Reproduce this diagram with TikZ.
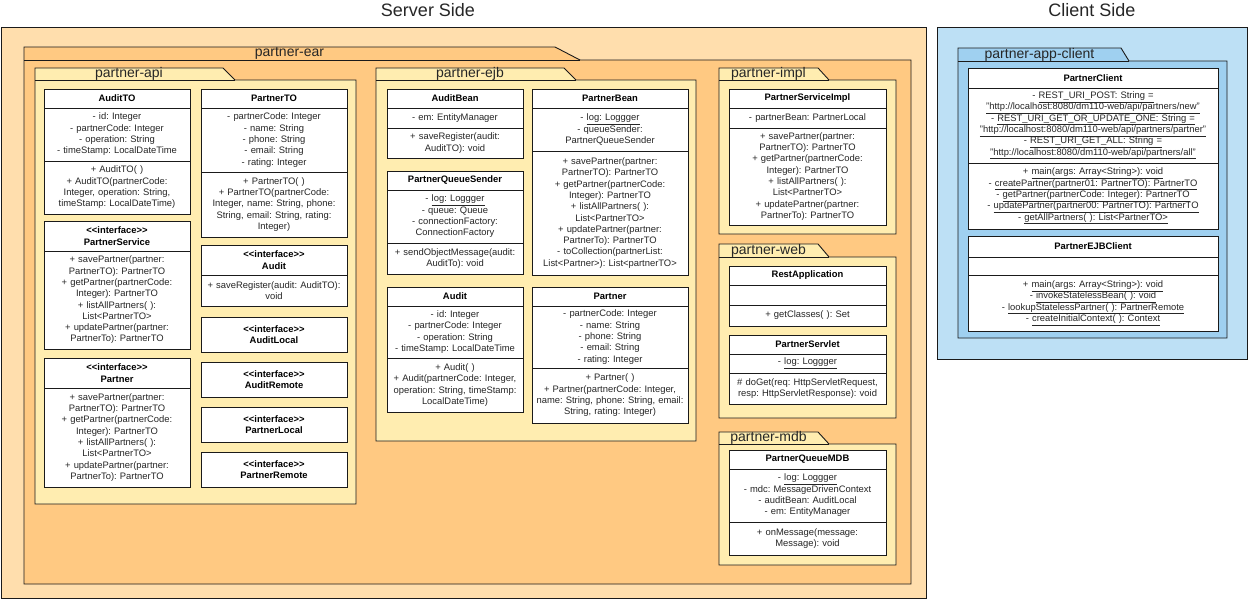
\documentclass[tikz,border=0pt]{standalone}
\usepackage{fontspec}
\setmainfont{Liberation Sans}
\usetikzlibrary{positioning,calc}
\definecolor{inkc}{HTML}{1A1A1A}
\definecolor{txtc}{HTML}{262626}
\definecolor{srvc}{HTML}{FFDEAD}
\definecolor{earc}{HTML}{FFC982}
\definecolor{pkgc}{HTML}{FFEDB0}
\definecolor{clic}{HTML}{BDE0F5}
\definecolor{appc}{HTML}{9FD0F0}
\frenchspacing
\newcommand{\stereo}{<\kern0pt<interface>\kern0pt>}
\newcommand{\logat}{- \underline{log: Loggger}}
% fill, x0, tab top, x1, bottom, tab end, slant, body top, label
\newcommand{\umlpkg}[9]{%
  \draw[pkgln,fill=#1] (#2,#3) -- (#6,#3) -- (#6+#7,#8) -- (#4,#8) -- (#4,#5) -- (#2,#5) -- cycle;
  \draw[pkgln] (#2,#8) -- (#6+#7,#8);
  \node[pkgl] (#9) at ($(#2,#3)!.5!(#6,#8)$) {#9};
}
\tikzset{
  pkgln/.style={draw=inkc,line width=.9pt},
  pkgl/.style ={font=\fontsize{14}{16}\selectfont,text=txtc,inner sep=0pt},
  ttl/.style  ={font=\fontsize{18}{20}\selectfont,text=txtc},
  box/.style  ={draw=inkc,line width=.8pt,fill=white,outer sep=0pt,inner xsep=0pt,
                inner ysep=1pt,align=center,text=txtc,font=\fontsize{9.4}{11.3}\selectfont\frenchspacing},
  hd/.style   ={box,anchor=north west,text=black,font=\fontsize{9.4}{11.3}\selectfont\bfseries},
  sec/.style  ={box},
  cw/.style   ={text width=#1},
}
\begin{document}
\begin{tikzpicture}[x=1pt,y=-1pt]
\useasboundingbox (0,0) rectangle (1257,603);

% ---------- server side ----------
\node[ttl] (srv-t) at (428,10) {Server Side};
\draw[pkgln,fill=srvc] (1,27) rectangle (926,598);
\umlpkg{earc}{24}{47}{911}{584}{555}{25}{60}{partner-ear}
\umlpkg{pkgc}{35}{68}{356}{504}{223}{12}{80}{partner-api}
\umlpkg{pkgc}{376}{68}{696}{441}{564}{12}{80}{partner-ejb}
\umlpkg{pkgc}{719}{68}{896}{234}{818}{11}{80}{partner-impl}
\umlpkg{pkgc}{719}{244}{896}{418}{818}{11}{257}{partner-web}
\umlpkg{pkgc}{719}{432}{896}{565}{818}{11}{444}{partner-mdb}

% partner-api
\node[hd,cw=146pt,minimum height=19pt] (auditto) at (44,89) {AuditTO};
\node[sec,cw=146pt,minimum height=53pt,below=0pt of auditto] (auditto-a)
  {- id: Integer\\- partnerCode: Integer\\- operation: String\\- timeStamp: LocalDateTime};
\node[sec,cw=146pt,minimum height=53pt,below=0pt of auditto-a] (auditto-m)
  {+ AuditTO( )\\+ AuditTO(partnerCode:\\Integer, operation: String,\\timeStamp: LocalDateTime)};

\node[hd,cw=146pt,minimum height=19pt] (partnerto) at (201,89) {PartnerTO};
\node[sec,cw=146pt,minimum height=64pt,below=0pt of partnerto] (partnerto-a)
  {- partnerCode: Integer\\- name: String\\- phone: String\\- email: String\\- rating: Integer};
\node[sec,cw=146pt,minimum height=65pt,below=0pt of partnerto-a] (partnerto-m)
  {+ PartnerTO( )\\+ PartnerTO(partnerCode:\\Integer, name: String, phone:\\String, email: String, rating:\\Integer)};

\node[hd,cw=146pt,minimum height=30pt] (psvc) at (44,221) {\stereo\\PartnerService};
\node[sec,cw=146pt,minimum height=98pt,below=0pt of psvc] (psvc-m)
  {+ savePartner(partner:\\PartnerTO): PartnerTO\\+ getPartner(partnerCode:\\Integer): PartnerTO\\
   + listAllPartners( ):\\List<PartnerTO>\\+ updatePartner(partner:\\PartnerTo): PartnerTO};

\node[hd,cw=146pt,minimum height=30pt] (pif) at (44,358) {\stereo\\Partner};
\node[sec,cw=146pt,minimum height=99pt,below=0pt of pif] (pif-m)
  {+ savePartner(partner:\\PartnerTO): PartnerTO\\+ getPartner(partnerCode:\\Integer): PartnerTO\\
   + listAllPartners( ):\\List<PartnerTO>\\+ updatePartner(partner:\\PartnerTo): PartnerTO};

\node[hd,cw=146pt,minimum height=30pt] (aif) at (201,245) {\stereo\\Audit};
\node[sec,cw=146pt,minimum height=31pt,below=0pt of aif] (aif-m)
  {+ saveRegister(audit: AuditTO):\\void};

\node[hd,cw=146pt,minimum height=35pt] (alocal)  at (201,317) {\stereo\\AuditLocal};
\node[hd,cw=146pt,minimum height=35pt] (aremote) at (201,362) {\stereo\\AuditRemote};
\node[hd,cw=146pt,minimum height=35pt] (plocal)  at (201,407) {\stereo\\PartnerLocal};
\node[hd,cw=146pt,minimum height=35pt] (premote) at (201,452) {\stereo\\PartnerRemote};

% partner-ejb
\node[hd,cw=136pt,minimum height=19pt] (abean) at (387,89) {AuditBean};
\node[sec,cw=136pt,minimum height=20pt,below=0pt of abean] (abean-a) {- em: EntityManager};
\node[sec,cw=136pt,minimum height=30pt,below=0pt of abean-a] (abean-m)
  {+ saveRegister(audit:\\AuditTO): void};

\node[hd,cw=136pt,minimum height=19pt] (pqs) at (387,171) {PartnerQueueSender};
\node[sec,cw=136pt,minimum height=53pt,below=0pt of pqs] (pqs-a)
  {\logat\\- queue: Queue\\- connectionFactory:\\ConnectionFactory};
\node[sec,cw=136pt,minimum height=31pt,below=0pt of pqs-a] (pqs-m)
  {+ sendObjectMessage(audit:\\AuditTo): void};

\node[hd,cw=136pt,minimum height=19pt] (audit) at (387,287) {Audit};
\node[sec,cw=136pt,minimum height=52pt,below=0pt of audit] (audit-a)
  {- id: Integer\\- partnerCode: Integer\\- operation: String\\- timeStamp: LocalDateTime};
\node[sec,cw=136pt,minimum height=54pt,below=0pt of audit-a] (audit-m)
  {+ Audit( )\\+ Audit(partnerCode: Integer,\\operation: String, timeStamp:\\LocalDateTime)};

\node[hd,cw=156pt,minimum height=19pt] (pbean) at (532,89) {PartnerBean};
\node[sec,cw=156pt,minimum height=43pt,below=0pt of pbean] (pbean-a)
  {\logat\\- queueSender:\\PartnerQueueSender};
\node[sec,cw=156pt,minimum height=124pt,below=0pt of pbean-a] (pbean-m)
  {+ savePartner(partner:\\PartnerTO): PartnerTO\\+ getPartner(partnerCode:\\Integer): PartnerTO\\
   + listAllPartners( ):\\List<PartnerTO>\\+ updatePartner(partner:\\PartnerTo): PartnerTO\\
   - toCollection(partnerList:\\List<Partner>): List<partnerTO>};

\node[hd,cw=156pt,minimum height=19pt] (partner) at (532,287) {Partner};
\node[sec,cw=156pt,minimum height=62pt,below=0pt of partner] (partner-a)
  {- partnerCode: Integer\\- name: String\\- phone: String\\- email: String\\- rating: Integer};
\node[sec,cw=156pt,minimum height=55pt,below=0pt of partner-a] (partner-m)
  {+ Partner( )\\+ Partner(partnerCode: Integer,\\name: String, phone: String, email:\\String, rating: Integer)};

% partner-impl
\node[hd,cw=157pt,minimum height=19pt] (psimpl) at (729,89) {PartnerServiceImpl};
\node[sec,cw=157pt,minimum height=20pt,below=0pt of psimpl] (psimpl-a) {- partnerBean: PartnerLocal};
\node[sec,cw=157pt,minimum height=97pt,below=0pt of psimpl-a] (psimpl-m)
  {+ savePartner(partner:\\PartnerTO): PartnerTO\\+ getPartner(partnerCode:\\Integer): PartnerTO\\
   + listAllPartners( ):\\List<PartnerTO>\\+ updatePartner(partner:\\PartnerTo): PartnerTO};

% partner-web
\node[hd,cw=157pt,minimum height=19pt] (restapp) at (729,266) {RestApplication};
\node[sec,cw=157pt,minimum height=20pt,below=0pt of restapp] (restapp-a) {};
\node[sec,cw=157pt,minimum height=21pt,below=0pt of restapp-a] (restapp-m) {+ getClasses( ): Set};

\node[hd,cw=157pt,minimum height=19pt] (pservlet) at (729,335) {PartnerServlet};
\node[sec,cw=157pt,minimum height=19pt,below=0pt of pservlet] (pservlet-a) {\logat};
\node[sec,cw=157pt,minimum height=31pt,below=0pt of pservlet-a] (pservlet-m)
  {\# doGet(req: HttpServletRequest,\\resp: HttpServletResponse): void};

% partner-mdb
\node[hd,cw=157pt,minimum height=19pt] (pqmdb) at (729,450) {PartnerQueueMDB};
\node[sec,cw=157pt,minimum height=53pt,below=0pt of pqmdb] (pqmdb-a)
  {\logat\\- mdc: MessageDrivenContext\\- auditBean: AuditLocal\\- em: EntityManager};
\node[sec,cw=157pt,minimum height=33pt,below=0pt of pqmdb-a] (pqmdb-m)
  {+ onMessage(message:\\Message): void};

% ---------- client side ----------
\node[ttl] (cli-t) at (1092,10) {Client Side};
\draw[pkgln,fill=clic] (937,27) rectangle (1247,359);
\umlpkg{appc}{958}{48}{1227}{338}{1121}{8}{61}{partner-app-client}

\node[hd,cw=250pt,minimum height=20pt] (pclient) at (968,68) {PartnerClient};
\node[sec,cw=250pt,minimum height=75pt,below=0pt of pclient] (pclient-a)
  {- \underline{REST\_URI\_POST: String =}\\
   \underline{"http://localhost:8080/dm110-web/api/partners/new"}\\
   - \underline{REST\_URI\_GET\_OR\_UPDATE\_ONE: String =}\\
   \underline{"http://localhost:8080/dm110-web/api/partners/partner"}\\
   - \underline{REST\_URI\_GET\_ALL: String =}\\
   \underline{"http://localhost:8080/dm110-web/api/partners/all"}};
\node[sec,cw=250pt,minimum height=66pt,below=0pt of pclient-a] (pclient-m)
  {+ \underline{main(args: Array<String>): void}\\
   - \underline{createPartner(partner01: PartnerTO): PartnerTO}\\
   - \underline{getPartner(partnerCode: Integer): PartnerTO}\\
   - \underline{updatePartner(partner00: PartnerTO): PartnerTO}\\
   - \underline{getAllPartners( ): List<PartnerTO>}};

\node[hd,cw=250pt,minimum height=21pt] (ejbclient) at (968,236) {PartnerEJBClient};
\node[sec,cw=250pt,minimum height=18pt,below=0pt of ejbclient] (ejbclient-a) {};
\node[sec,cw=250pt,minimum height=56pt,below=0pt of ejbclient-a] (ejbclient-m)
  {+ \underline{main(args: Array<String>): void}\\
   - \underline{invokeStatelessBean( ): void}\\
   - \underline{lookupStatelessPartner( ): PartnerRemote}\\
   - \underline{createInitialContext( ): Context}};
\end{tikzpicture}
\end{document}
